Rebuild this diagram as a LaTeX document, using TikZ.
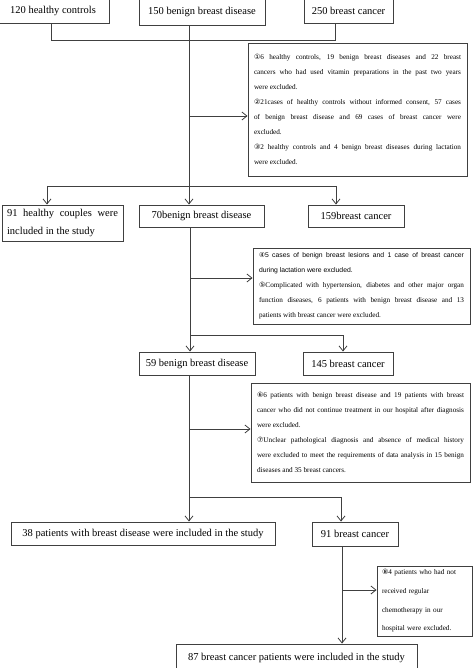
\documentclass[tikz,border=0pt]{standalone}
\usepackage{fontspec}
\setmainfont{Liberation Serif}
\newfontfamily\sansf{Liberation Sans}
\newfontfamily\circf{DejaVu Sans}
\usetikzlibrary{arrows.meta}
\newcommand{\cn}[1]{{\circf #1}}
\begin{document}
\begin{tikzpicture}[x=1pt,y=-1pt,
  box/.style={draw=black!75, line width=0.9pt, rectangle, inner sep=0pt, font=\fontsize{10.5}{18}\selectfont},
  ex/.style={draw=black!75, line width=0.9pt, rectangle, inner xsep=6pt, inner ysep=0pt, align=justify, font=\fontsize{7.2}{15}\selectfont},
  ln/.style={draw=black!75, line width=0.8pt},
  ar/.style={ln, -{Straight Barb[length=5pt,width=8pt]}}]
\useasboundingbox (0,0) rectangle (474,668);
\fill[white] (0,0) rectangle (474,668);
\clip (0,0) rectangle (474,668);
% top row
\node[box, minimum width=112pt, minimum height=24pt] (hc) at (53,11) {120 healthy controls};
\node[box, minimum width=126pt, minimum height=26pt] (bb) at (202,12) {150 benign breast disease};
\node[box, minimum width=89pt, minimum height=24pt] (bc) at (348.5,11) {250 breast cancer};
\node[ex, text width=207pt, minimum height=133pt] (ex1) at (357.5,109.5) {\cn{①}6 healthy controls, 19 benign breast diseases and 22 breast\linebreak cancers who had used vitamin preparations in the past two years\linebreak were excluded.\par \cn{②}21cases of healthy controls without informed consent, 57 cases\linebreak of benign breast disease and 69 cases of breast cancer were\linebreak excluded.\par \cn{③}2 healthy controls and 4 benign breast diseases during lactation\linebreak were excluded.};
% second row
\node[box, minimum width=121pt, minimum height=36pt, text width=111pt, align=justify] (hc2) at (62.5,223) {91 healthy couples were\linebreak included in the study};
\node[box, minimum width=125pt, minimum height=22pt] (bb2) at (201.5,216) {70benign breast disease};
\node[box, minimum width=96pt, minimum height=22pt] (bc2) at (356,216) {159breast cancer};
\node[ex, text width=205pt, minimum height=76pt] (ex2) at (361.5,286) {{\sansf\fontsize{6.8}{15}\selectfont\cn{④}5 cases of benign breast lesions and 1 case of breast cancer\linebreak during lactation were excluded.}\par \cn{⑤}Complicated with hypertension, diabetes and other major organ\linebreak function diseases, 6 patients with benign breast disease and 13\linebreak patients with breast cancer were excluded.};
% third row
\node[box, minimum width=116pt, minimum height=23pt] (bb3) at (197,363.5) {59 benign breast disease};
\node[box, minimum width=90pt, minimum height=23pt] (bc3) at (348,363.5) {145 breast cancer};
\node[ex, text width=207pt, minimum height=99pt] (ex3) at (360.5,432.5) {\cn{⑥}6 patients with benign breast disease and 19 patients with breast\linebreak cancer who did not continue treatment in our hospital after diagnosis\linebreak were excluded.\par \cn{⑦}Unclear pathological diagnosis and absence of medical history\linebreak were excluded to meet the requirements of data analysis in 15 benign\linebreak diseases and 35 breast cancers.};
% fourth row
\node[box, minimum width=264pt, minimum height=23pt] (pt4) at (143,533.5) {38 patients with breast disease were included in the study};
\node[box, minimum width=86pt, minimum height=24pt] (bc4) at (355,534) {91 breast cancer};
\node[ex, inner xsep=5pt, text width=85pt, minimum height=70pt, align=left, font=\fontsize{7.2}{18.7}\selectfont] (ex4) at (424.5,601) {\cn{⑧}4 patients who had not\\ received regular\\ chemotherapy in our\\ hospital were excluded.};
\node[box, minimum width=241pt, minimum height=28pt] (fin) at (296.5,658) {87 breast cancer patients were included in the study};
% junction coordinates
\coordinate (jA) at (51,40);
\coordinate (jB) at (335,40);
\coordinate (v1) at (189,0);
\coordinate (a1) at (189,116);
\coordinate (s1L) at (47,186);
\coordinate (s1R) at (336,186);
\coordinate (v2) at (190,0);
\coordinate (a2) at (190,278);
\coordinate (s2L) at (190,335);
\coordinate (s2R) at (343,335);
\coordinate (a3) at (189,429);
\coordinate (s3L) at (189,497);
\coordinate (s3R) at (341,497);
\coordinate (v4) at (342,0);
\coordinate (a4) at (342,590);
% connectors
\draw[ln] (hc.south -| jA) -- (jA) -- (jB) -- (bc.south -| jB);
\draw[ar] (bb.south -| v1) -- (bb2.north -| v1);
\draw[ar] (a1) -- (ex1.west |- a1);
\draw[ln] (s1L) -- (s1R);
\draw[ar] (s1L) -- (hc2.north -| s1L);
\draw[ar] (s1R) -- (bc2.north -| s1R);
\draw[ar] (bb2.south -| v2) -- (bb3.north -| v2);
\draw[ar] (a2) -- (ex2.west |- a2);
\draw[ln] (s2L) -- (s2R);
\draw[ar] (s2R) -- (bc3.north -| s2R);
\draw[ar] (bb3.south -| a3) -- (pt4.north -| a3);
\draw[ar] (a3) -- (ex3.west |- a3);
\draw[ln] (s3L) -- (s3R);
\draw[ar] (s3R) -- (bc4.north -| s3R);
\draw[ar] (bc4.south -| v4) -- (fin.north -| v4);
\draw[ar] (a4) -- (ex4.west |- a4);
\end{tikzpicture}
\end{document}
